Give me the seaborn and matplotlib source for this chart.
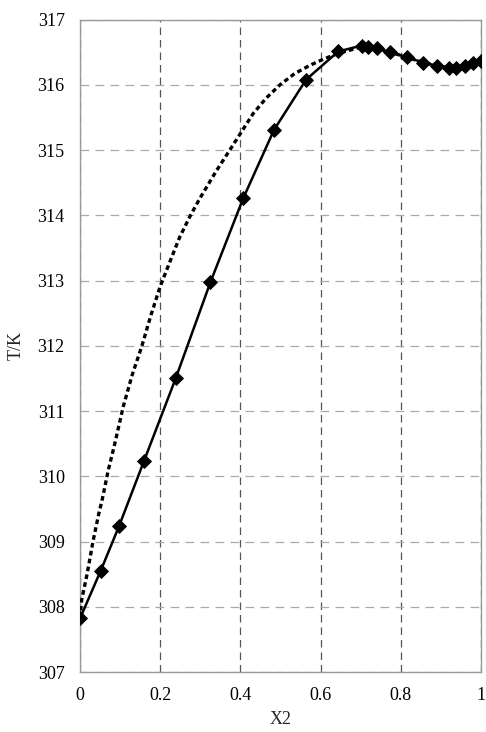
import matplotlib
matplotlib.use("Agg")
import matplotlib.pyplot as plt
import seaborn as sns
import pandas as pd

# Experimental points (solid line with diamond markers)
x_exp = [0.0, 0.0515, 0.097, 0.160, 0.2386, 0.325, 0.407, 0.484, 0.564, 0.644,
         0.702, 0.719, 0.740, 0.773, 0.816, 0.856, 0.891, 0.919, 0.938, 0.960, 0.981, 1.0]
t_exp = [307.82, 308.55, 309.23, 310.24, 311.50, 312.97, 314.26, 315.31, 316.08, 316.51,
         316.60, 316.58, 316.56, 316.50, 316.42, 316.34, 316.29, 316.26, 316.26, 316.29, 316.33, 316.37]

# Model curve (dotted line)
x_mod = [0.0, 0.004, 0.018, 0.033, 0.047, 0.056, 0.070, 0.086, 0.108, 0.130, 0.154,
         0.177, 0.200, 0.225, 0.249, 0.274, 0.299, 0.340, 0.382, 0.432, 0.465, 0.499,
         0.535, 0.574, 0.610, 0.644, 0.702, 0.740, 0.773, 0.816, 0.856, 0.891, 0.919,
         0.938, 0.960, 0.981, 1.0]
t_mod = [307.82, 308.10, 308.51, 309.02, 309.43, 309.66, 310.08, 310.48, 311.07, 311.55, 311.99,
         312.47, 312.91, 313.30, 313.67, 313.98, 314.26, 314.68, 315.08, 315.56, 315.80, 316.00,
         316.17, 316.30, 316.40, 316.48, 316.58, 316.56, 316.50, 316.42, 316.34, 316.29, 316.26,
         316.26, 316.29, 316.33, 316.37]

x_ticks = [0, 0.2, 0.4, 0.6, 0.8, 1]
x_tick_labels = ["0", "0.2", "0.4", "0.6", "0.8", "1"]
y_ticks = [307, 308, 309, 310, 311, 312, 313, 314, 315, 316, 317]

sns.set_style("white")
plt.rcParams["font.family"] = ["Liberation Serif", "DejaVu Serif"]

df_exp = pd.DataFrame({"x": x_exp, "T": t_exp})
df_mod = pd.DataFrame({"x": x_mod, "T": t_mod})

fig = plt.figure(figsize=(4.86, 7.32), dpi=100)
ax = fig.add_axes([80/486, 1-672/732, (481-80)/486, (672-19.5)/732])

sns.lineplot(data=df_mod, x="x", y="T", sort=False, estimator=None, ax=ax,
             color="black", lw=2.4, linestyle=(0, (1.4, 1.0)), zorder=3)
sns.lineplot(data=df_exp, x="x", y="T", sort=False, estimator=None, ax=ax,
             color="black", lw=1.8, marker="D", markersize=7.5, markeredgewidth=0.6,
             markeredgecolor="black", markerfacecolor="black", zorder=4)

ax.set_xlim(0, 1)
ax.set_ylim(307, 317)
ax.set_xticks(x_ticks)
ax.set_xticklabels(x_tick_labels)
ax.set_yticks(y_ticks)
ax.tick_params(axis="both", length=0, labelsize=13, colors="black")
ax.tick_params(axis="y", pad=11)
ax.tick_params(axis="x", pad=11)

ax.xaxis.grid(True, color="#555555", linestyle=(0, (6, 4)), lw=0.9)
ax.yaxis.grid(True, color="#aaaaaa", linestyle=(0, (7, 5)), lw=0.9)
ax.set_axisbelow(True)
for s in ax.spines.values():
    s.set_color("#999999")
    s.set_linewidth(1.0)
    s.set_visible(True)

ax.set_xlabel("X2", fontsize=13, labelpad=5)
ax.set_ylabel("T/K", fontsize=13, labelpad=9)

fig.savefig("out.png", dpi=100)
